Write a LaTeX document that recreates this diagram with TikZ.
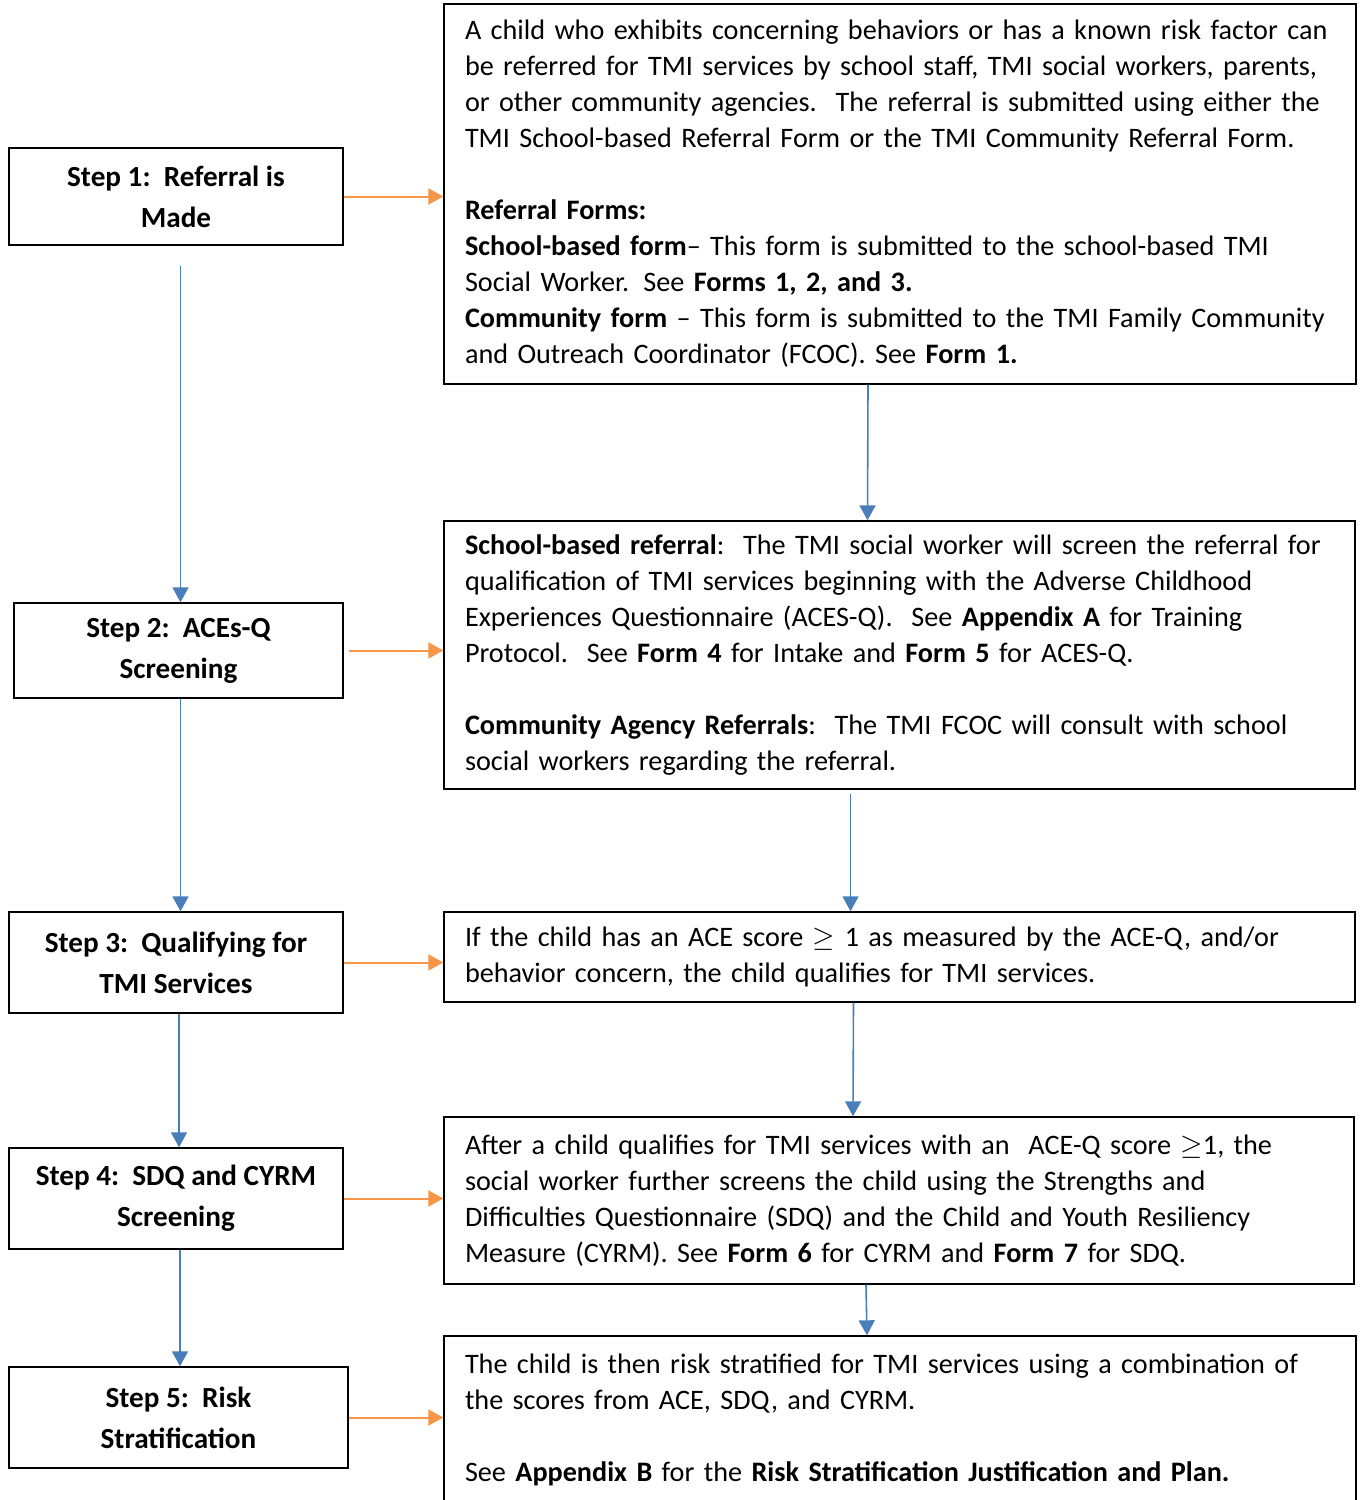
\documentclass[tikz,border=0pt]{standalone}
\usepackage{fontspec}
\setmainfont{Carlito}
\usepackage{xcolor}
\usepackage{tikz}
\usetikzlibrary{positioning,arrows.meta}

\definecolor{flowblue}{HTML}{4A7EBB}
\definecolor{floworange}{HTML}{F79646}

\begin{document}
\begin{tikzpicture}[
  x=0.5pt, y=-0.5pt,
  stepbox/.style={rectangle, draw, line width=0.7pt, align=center, inner sep=0pt, font=\fontsize{14.6}{20.5}\selectfont\bfseries},
  infobox/.style={rectangle, draw, line width=0.7pt, align=left, inner sep=0pt, font=\fontsize{14.1}{18}\selectfont},
  sidearrow/.style={-{Triangle[length=7.5pt,width=8pt]}, floworange, line width=1pt},
  downarrow/.style={-{Triangle[length=7.5pt,width=8pt]}, flowblue, line width=0.8pt}
]
  \useasboundingbox (0,0) rectangle (1361,1500);

  % Steps
  \node[stepbox, minimum width=167pt, minimum height=48.5pt] (step1) at (176,196.5) {Step 1:\ \ Referral is\\Made};
  \node[stepbox, minimum width=164.5pt, minimum height=47.5pt] (step2) at (178.5,650.5) {Step 2:\ \ ACEs-Q\\Screening};
  \node[stepbox, minimum width=167pt, minimum height=50.5pt] (step3) at (176,962.5) {Step 3:\ \ Qualifying for\\TMI Services};
  \node[stepbox, minimum width=167pt, minimum height=50.5pt] (step4) at (176,1198.5) {Step 4:\ \ SDQ and CYRM\\Screening};
  \node[stepbox, minimum width=169.5pt, minimum height=50.5pt] (step5) at (178.5,1417.5) {Step 5:\ \ Risk\\Stratification};

  % Descriptions
  \node[infobox, minimum width=456pt, minimum height=190pt, text width=435pt] (info1) at (900,194) {A child who exhibits concerning behaviors or has a known risk factor can\\
be referred for TMI services by school staff, TMI social workers, parents,\\
or other community agencies.\ \ The referral is submitted using either the\\
TMI School-based Referral Form or the TMI Community Referral Form.\\[18pt]
\textbf{Referral Forms:}\\
\textbf{School-based form}– This form is submitted to the school-based TMI\\
Social Worker. See \textbf{Forms 1, 2, and 3.}\\
\textbf{Community form} – This form is submitted to the TMI Family Community\\
and Outreach Coordinator (FCOC). See \textbf{Form 1.}};
  \node[infobox, minimum width=455.5pt, minimum height=134pt, text width=434.5pt] (info2) at (899.5,655) {\textbf{School-based referral}:\ \ The TMI social worker will screen the referral for\\
qualification of TMI services beginning with the Adverse Childhood\\
Experiences Questionnaire (ACES-Q).\ \ See \textbf{Appendix A} for Training\\
Protocol.\ \ See \textbf{Form 4} for Intake and \textbf{Form 5} for ACES-Q.\\[18pt]
\textbf{Community Agency Referrals}:\ \ The TMI FCOC will consult with school\\
social workers regarding the referral.};
  \node[infobox, minimum width=455.5pt, minimum height=45pt, text width=434.5pt] (info3) at (899.5,957) {If the child has an ACE score $\geq$ 1 as measured by the ACE-Q, and/or\\
behavior concern, the child qualifies for TMI services.};
  \node[infobox, minimum width=455pt, minimum height=83.5pt, text width=434pt] (info4) at (899,1200.5) {After a child qualifies for TMI services with an\ \ ACE-Q score $\geq$1, the\\
social worker further screens the child using the Strengths and\\
Difficulties Questionnaire (SDQ) and the Child and Youth Resiliency\\
Measure (CYRM). See \textbf{Form 6} for CYRM and \textbf{Form 7} for SDQ.};
  \node[infobox, minimum width=456pt, minimum height=83.5pt, text width=435pt] (info5) at (900,1419.5) {The child is then risk stratified for TMI services using a combination of\\
the scores from ACE, SDQ, and CYRM.\\[18pt]
See \textbf{Appendix B} for the \textbf{Risk Stratification Justification and Plan.}};

  % Connections
  \draw[sidearrow] (step1) -- (step1 -| info1.west);
  \draw[sidearrow, shorten <=2.5pt] (step2) -- (step2 -| info2.west);
  \draw[sidearrow] (step3) -- (step3 -| info3.west);
  \draw[sidearrow] (step4) -- (step4 -| info4.west);
  \draw[sidearrow] (step5.east) -- (step5 -| info5.west);

  \draw[downarrow, shorten <=10pt] ([xshift=1pt]step1.south -| step2.north) -- ([xshift=1pt]step2.north);
  \draw[downarrow] ([xshift=1pt]step2.south) -- ([xshift=1pt]step3.north -| step2.south);
  \draw[downarrow] ([xshift=1.5pt]step3.south) -- ([xshift=1.5pt]step4.north);
  \draw[downarrow] ([xshift=2pt]step4.south) -- ([xshift=2pt]step5.north -| step4.south);

  \draw[downarrow] ([xshift=-16pt]info1.south) -- ([xshift=-16pt]info2.north);
  \draw[downarrow, shorten <=2pt] ([xshift=-24.5pt]info2.south) -- ([xshift=-24.5pt]info3.north);
  \draw[downarrow] ([xshift=-23pt]info3.south) -- ([xshift=-23pt]info4.north);
  \draw[downarrow] ([xshift=-16.5pt]info4.south) -- ([xshift=-16.5pt]info5.north);
\end{tikzpicture}
\end{document}
